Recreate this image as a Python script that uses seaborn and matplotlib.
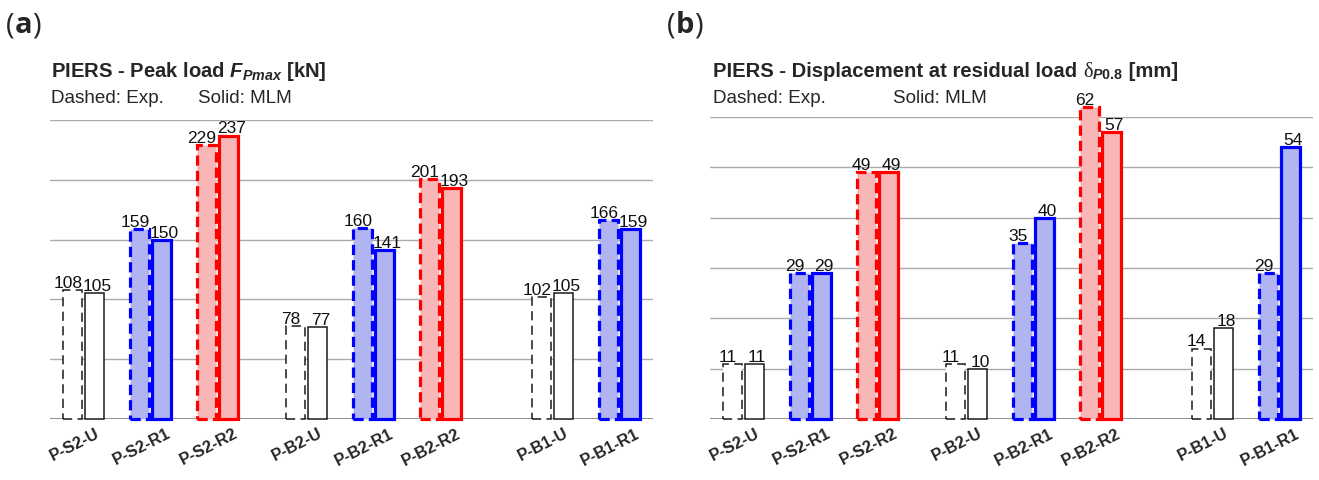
import numpy as np
import pandas as pd
import matplotlib
matplotlib.use("Agg")
import matplotlib.pyplot as plt
import seaborn as sns
from matplotlib.transforms import ScaledTranslation

# ---------------- data ----------------
specimens = ["P-S2-U", "P-S2-R1", "P-S2-R2", "P-B2-U", "P-B2-R1", "P-B2-R2", "P-B1-U", "P-B1-R1"]
groups = ["U", "R1", "R2", "U", "R1", "R2", "U", "R1"]
peak_exp = [108, 159, 229, 78, 160, 201, 102, 166]
peak_mlm = [105, 150, 237, 77, 141, 193, 105, 159]
disp_exp = [11, 29, 49, 11, 35, 62, 14, 29]
disp_mlm = [11, 29, 49, 10, 40, 57, 18, 54]

# category slots (gaps between specimen families)
x_slots = [0, 1, 2, 3.33, 4.33, 5.33, 7, 8]

sns.set_theme(style="white")
plt.rcParams["font.family"] = ["Liberation Sans", "DejaVu Sans"]
plt.rcParams["mathtext.fontset"] = "custom"
plt.rcParams["mathtext.it"] = "Liberation Sans:italic:bold"
plt.rcParams["mathtext.rm"] = "Liberation Sans:bold"
plt.rcParams["mathtext.bf"] = "Liberation Sans:bold"

W, H = 1319, 480
fig = plt.figure(figsize=(W / 100, H / 100), dpi=100)

face = {"U": "#ffffff", "R1": "#b0b4f0", "R2": "#f8b6b6"}
edge = {"U": "#1a1a1a", "R1": "#0000ff", "R2": "#ff0000"}
lw = {"U": 1.1, "R1": 2.3, "R2": 2.3}


def make_df(exp, mlm):
    rows = []
    for s, xs, e, m in zip(specimens, x_slots, exp, mlm):
        rows.append({"pos": xs, "value": e, "series": "Exp", "spec": s})
        rows.append({"pos": xs, "value": m, "series": "MLM", "spec": s})
    return pd.DataFrame(rows)


def panel(rect, exp, mlm, ymax, ystep):
    ax = fig.add_axes(rect)
    df = make_df(exp, mlm)
    sns.barplot(data=df, x="pos", y="value", hue="series", hue_order=["Exp", "MLM"],
                native_scale=True, orient="x", width=0.64, gap=0.12, dodge=True,
                errorbar=None, legend=False, ax=ax)
    for cont, ser in zip(ax.containers, ["Exp", "MLM"]):
        vals = exp if ser == "Exp" else mlm
        for bar in cont:
            xc = bar.get_x() + bar.get_width() / 2
            i = int(np.argmin(np.abs(np.array(x_slots) - xc)))
            g = groups[i]
            bar.set_facecolor(face[g])
            bar.set_edgecolor(edge[g])
            bar.set_linewidth(lw[g])
            bar.set_joinstyle("miter")
            bar.set_clip_on(False)
            if ser == "Exp":
                bar.set_linestyle((0, (3.2, 1.6)) if g != "U" else (0, (6, 3.5)))
            dx = -5 if ser == "Exp" else 3
            ax.annotate(f"{vals[i]}", xy=(xc, bar.get_height()), xytext=(dx * 0.72, 1.5),
                        textcoords="offset points", ha="center", va="baseline",
                        fontsize=12.5, color="#111111", annotation_clip=False)
    ax.set_xlim(-0.5, 8.5)
    ax.set_ylim(0, ymax)
    ax.set_yticks(np.arange(0, ymax + 0.1, ystep))
    ax.set_yticklabels([])
    ax.yaxis.grid(True, color="#ababab", lw=1.0)
    ax.set_axisbelow(True)
    ax.axhline(0, color="#8a8a8a", lw=1.4, zorder=0.5)
    for sp in ax.spines.values():
        sp.set_visible(False)
    ax.set_xlabel("")
    ax.set_ylabel("")
    ax.set_xticks(x_slots)
    ax.set_xticklabels(specimens, rotation=27, fontweight="bold", fontsize=11.8,
                       ha="center", va="top")
    ax.tick_params(axis="x", length=0, pad=5)
    ax.tick_params(axis="y", length=0)
    off = ScaledTranslation(-9 / 100, 0, fig.dpi_scale_trans)
    for lab in ax.get_xticklabels():
        lab.set_transform(lab.get_transform() + off)
    return ax


ax_a = panel([50 / W, 61 / H, 603 / W, 299 / H], peak_exp, peak_mlm, 250, 50)
ax_b = panel([710 / W, 61 / H, 603 / W, 302 / H], disp_exp, disp_mlm, 60, 10)

fig.canvas.draw()
renderer = fig.canvas.get_renderer()


def chain(x_px, y_px, parts):
    x = x_px
    for s, kw in parts:
        t = fig.text(x / W, 1 - y_px / H, s, va="baseline", ha="left", **kw)
        bb = t.get_window_extent(renderer)
        x = bb.x1
    return x


# panel letters
for x0, letter in [(6, "a"), (667, "b")]:
    chain(x0, 33, [("(", dict(fontsize=21, family="Open Sans")),
                   (letter, dict(fontsize=21, family="Open Sans", fontweight="bold")),
                   (")", dict(fontsize=21, family="Open Sans"))])

# titles
TS = 14.6
chain(51, 77, [(r"PIERS - Peak load $F_{Pmax}$ [kN]", dict(fontsize=TS, fontweight="bold"))])
chain(713, 77, [("PIERS - Displacement at residual load ", dict(fontsize=TS, fontweight="bold")),
                ("δ", dict(fontsize=TS, family="Liberation Serif")),
                (r"${}_{\mathit{P0.8}}$", dict(fontsize=TS, fontweight="bold")),
                (" [mm]", dict(fontsize=TS, fontweight="bold"))])

# subtitles
SS = 13.6
fig.text(51 / W, 1 - 103 / H, "Dashed: Exp.", fontsize=SS, va="baseline")
fig.text(198 / W, 1 - 103 / H, "Solid: MLM", fontsize=SS, va="baseline")
fig.text(713 / W, 1 - 103 / H, "Dashed: Exp.", fontsize=SS, va="baseline")
fig.text(893 / W, 1 - 103 / H, "Solid: MLM", fontsize=SS, va="baseline")

fig.savefig("out.png", dpi=100)
